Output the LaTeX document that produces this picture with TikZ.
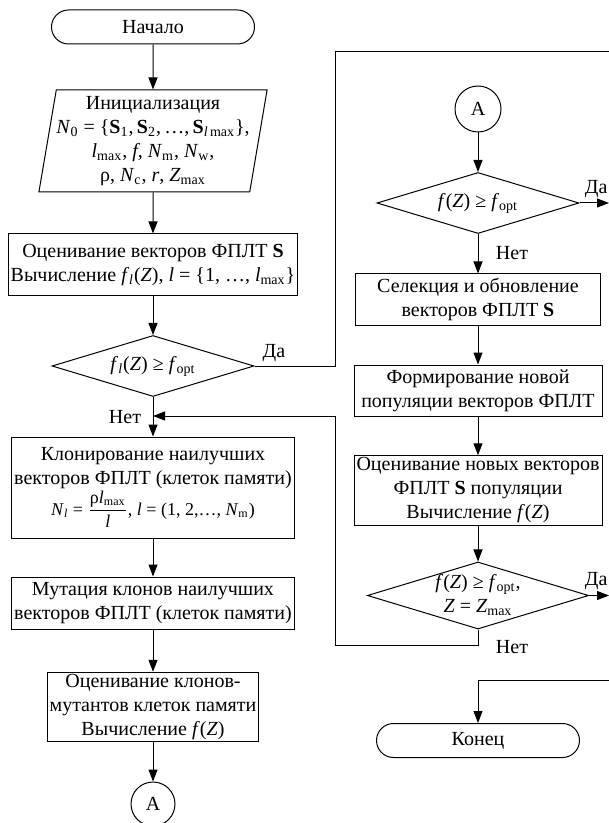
\documentclass[tikz,border=0pt]{standalone}
\usepackage{fontspec}
\setmainfont{Liberation Serif}
\usetikzlibrary{shapes.geometric,shapes.misc,arrows.meta}
\newcommand\vsub[2]{\textit{#1}\textsubscript{#2}}
\begin{document}
\begin{tikzpicture}[x=0.5pt,y=-0.5pt,line width=0.5pt,
        font=\fontsize{10}{12}\selectfont,
        every node/.style={align=center},
        box/.style={draw,rectangle,inner sep=1pt},
        term/.style={draw,rounded rectangle,minimum width=101.5pt,minimum height=17pt,inner sep=0pt},
        cond/.style={draw,diamond,aspect=3.3,inner sep=0pt,minimum width=101pt,minimum height=30.5pt},
        conn/.style={draw,circle,inner sep=0pt},
        arr/.style={-{Triangle[length=6pt,width=4.5pt]}}]
        \useasboundingbox (0,0) rectangle (609,823);
        \clip (0,0) rectangle (609,823);
        \node[term] (start) at (153,27) {Начало};
        \node[draw,trapezium,trapezium left angle=79,trapezium right angle=101,trapezium stretches=true,minimum width=100pt,minimum height=51pt,inner sep=0pt] (init) at (153,141) {Инициализация\\ \vsub{N}{0} = \{\textbf{S}\textsubscript{1},\,\textbf{S}\textsubscript{2},\,…,\,\textbf{S}\textsubscript{\textit{l}\,max}\},\\ \vsub{l}{max}, \textit{f}, \vsub{N}{m}, \vsub{N}{w},\\ ρ, \vsub{N}{c}, \textit{r}, \vsub{Z}{max}};
        \node[box,minimum width=142.5pt,minimum height=31pt] (evalS) at (153,265) {Оценивание векторов ФПЛТ \textbf{S}\\ Вычисление \vsub{f}{\textit{l}}(\textit{Z}), \textit{l} = \{1, …, \vsub{l}{max}\}};
        \node[cond] (cond1) at (153,366) {\vsub{f}{\textit{l}}(\textit{Z}) ≥ \vsub{f}{opt}};
        \node[box,minimum width=141.5pt,minimum height=50.5pt] (clone) at (153,487.5) {Клонирование наилучших\\ векторов ФПЛТ (клеток памяти)\\ {\small\vsub{N}{\textit{l}} = $\displaystyle\frac{\mbox{ρ\vsub{l}{max}}}{\mbox{\textit{l}}}$, \textit{l} = (1, 2,…, \vsub{N}{m})}};
        \node[box,minimum width=141.5pt,minimum height=26pt] (mutate) at (153,603) {Мутация клонов наилучших\\ векторов ФПЛТ (клеток памяти)};
        \node[box,minimum width=101.5pt,minimum height=34pt] (evalclone) at (153,707) {Оценивание клонов-\\ мутантов клеток памяти\\ Вычисление \textit{f}(\textit{Z})};
        \node[conn,minimum size=22pt] (connA) at (153,804) {А};
        \node[conn,minimum size=23pt] (connB) at (478,109) {А};
        \node[cond] (cond2) at (478,203) {\textit{f}(\textit{Z}) ≥ \vsub{f}{opt}};
        \node[box,minimum width=122.5pt,minimum height=25.5pt] (select) at (478,299.5) {Селекция и обновление\\ векторов ФПЛТ \textbf{S}};
        \node[box,minimum width=124pt,minimum height=25.5pt] (form) at (478,390.5) {Формирование новой\\ популяции векторов ФПЛТ};
        \node[box,minimum width=124pt,minimum height=33.5pt] (evalnew) at (478,490.5) {Оценивание новых векторов\\ ФПЛТ \textbf{S} популяции\\ Вычисление \textit{f}(\textit{Z})};
        \node[cond] (cond3) at (478,595.5) {\textit{f}(\textit{Z}) ≥ \vsub{f}{opt},\\ \textit{Z} = \vsub{Z}{max}};
        \node[term] (stop) at (478,740.5) {Конец};
        \coordinate (top) at (335,52);
        \coordinate (yesA) at (615,52);
        \coordinate (loopR) at (335,416);
        \coordinate (loopL) at (153,416);
        \coordinate (loopB) at (335,645);
        \coordinate (yes2) at (609,203);
        \coordinate (yes3) at (609,595.5);
        \coordinate (fromR) at (615,680);
        \draw[arr] (start) -- (init);
        \draw[arr] (init) -- (evalS);
        \draw[arr] (evalS) -- (cond1);
        \draw[arr] (cond1) -- (clone);
        \draw[arr] (clone) -- (mutate);
        \draw[arr] (mutate) -- (evalclone);
        \draw[arr] (evalclone) -- (connA);
        \draw (cond1.east) -| (top) -- (yesA);
        \draw[arr] (connB) -- (cond2);
        \draw[arr] (cond2) -- (select);
        \draw[arr] (select) -- (form);
        \draw[arr] (form) -- (evalnew);
        \draw[arr] (evalnew) -- (cond3);
        \draw[arr] (cond2.east) -- (yes2);
        \draw[arr] (cond3.east) -- (yes3);
        \draw[arr] (cond3.south) |- (loopB) -- (loopR) -- (loopL);
        \draw[arr] (fromR) -| (stop.north);
        \node (yes1lbl) at (274,353) {Да};
        \node (no1lbl) at (125,417) {Нет};
        \node[anchor=east,inner sep=0.5pt] (yes2lbl) at (609,189) {Да};
        \node (no2lbl) at (512,253) {Нет};
        \node[anchor=east,inner sep=0.5pt] (yes3lbl) at (609,581) {Да};
        \node (no3lbl) at (512,647) {Нет};
        \end{tikzpicture}
\end{document}
